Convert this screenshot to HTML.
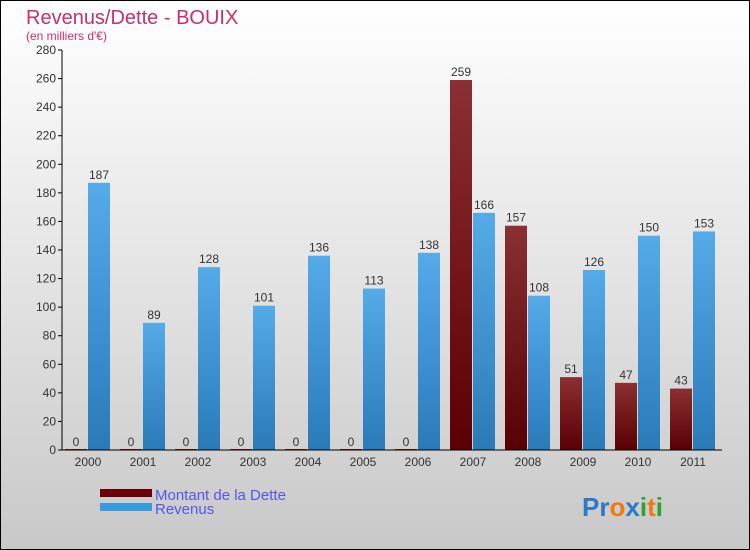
<!DOCTYPE html>
<html><head><meta charset="utf-8"><style>
body{margin:0}
#c{width:750px;height:550px;position:relative;overflow:hidden;font-family:"Liberation Sans",sans-serif}
</style></head><body>
<div id="c">
<svg width="750" height="550" id="svg">
<defs>
<linearGradient id="bg" x1="0" y1="0" x2="0" y2="1"><stop offset="0" stop-color="#ffffff"/><stop offset="1" stop-color="#c8c8c8"/></linearGradient>
<linearGradient id="gr" x1="0" y1="0" x2="0" y2="1"><stop offset="0" stop-color="#55aae8"/><stop offset="1" stop-color="#2a7ab8"/></linearGradient>
<linearGradient id="gd" x1="0" y1="0" x2="0" y2="1"><stop offset="0" stop-color="#8a3032"/><stop offset="1" stop-color="#5a0004"/></linearGradient>
</defs>
<rect x="0.5" y="0.5" width="749" height="549" fill="url(#bg)" stroke="#000"/>
<text x="26" y="24" font-size="20" fill="#c8306a">Revenus/Dette - BOUIX</text>
<text x="26" y="40" font-size="12" fill="#c8306a">(en milliers d'€)</text>
<g id="plot"></g>
<rect x="100" y="489" width="52" height="8" fill="#6a0008"/>
<text x="155" y="500" font-size="15" fill="#5555ee">Montant de la Dette</text>
<rect x="100" y="503" width="52" height="8" fill="#3a9ae0"/>
<text x="155" y="514" font-size="15" fill="#5555ee">Revenus</text>
<text x="582" y="516" font-size="26" font-weight="bold"><tspan fill="#2a7ac8">Pr</tspan><tspan fill="#f07a10">o</tspan><tspan fill="#2a7ac8">x</tspan><tspan fill="#30a030">i</tspan><tspan fill="#f07a10">t</tspan><tspan fill="#30a030">i</tspan></text>
</svg>
</div>
<script>
const years=["2000","2001","2002","2003","2004","2005","2006","2007","2008","2009","2010","2011"];
const dette=[0,0,0,0,0,0,0,259,157,51,47,43];
const revenus=[187,89,128,101,136,113,138,166,108,126,150,153];
const ticks=[0,20,40,60,80,100,120,140,160,180,200,220,240,260,280];
const NS="http://www.w3.org/2000/svg";
const g=document.getElementById('plot');
const x0=62,x1=722,y0=450,y1=50,ymax=280;
const bw=(x1-x0)/years.length;
function y(v){return y0-(v/ymax)*(y0-y1);}
function el(t,a){const e=document.createElementNS(NS,t);for(const k in a)e.setAttribute(k,a[k]);g.appendChild(e);return e;}
ticks.forEach(t=>{
  const l=el('line',{x1:x0-4,x2:x0,y1:y(t),y2:y(t),stroke:'#000'});
  
  
  const tx=el('text',{x:x0-6,y:y(t)+4,'font-size':12,'text-anchor':'end',fill:'#333'});
  tx.textContent=t;
  
  
});
years.forEach((yr,i)=>{
  const cx=x0+bw*i;
  const d=el('rect',{x:cx+3,y:y(dette[i])-(dette[i]?0:1),width:22,height:Math.max(1,y0-y(dette[i])),fill:'url(#gd)'});
  
  
  const r=el('rect',{x:cx+26,y:y(revenus[i]),width:22,height:y0-y(revenus[i]),fill:'url(#gr)'});
  
  
  const t1=el('text',{x:cx+14,y:y(dette[i])-4,'font-size':12,'text-anchor':'middle',fill:'#333'});
  t1.textContent=dette[i];
  
  
  const t2=el('text',{x:cx+37,y:y(revenus[i])-4,'font-size':12,'text-anchor':'middle',fill:'#333'});
  t2.textContent=revenus[i];
  
  
  const xl=el('text',{x:cx+26,y:466,'font-size':12,'text-anchor':'middle',fill:'#333'});
  xl.textContent=yr;
  
  
});
const ya=el('line',{x1:x0,x2:x0,y1:y1,y2:y0,stroke:'#000'});


const xa=el('line',{x1:x0,x2:x1,y1:y0,y2:y0,stroke:'#000'});


</script>
</body></html>
